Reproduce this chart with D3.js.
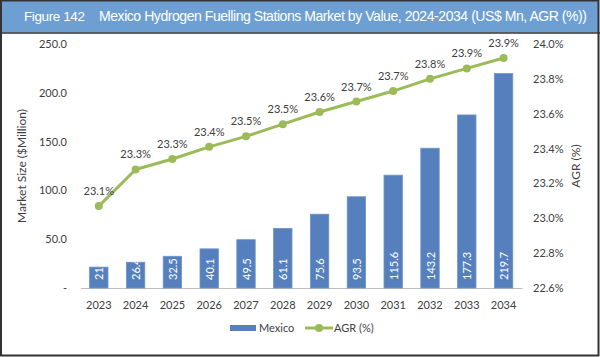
<!DOCTYPE html>
<html><head><meta charset="utf-8">
<script src="https://cdn.jsdelivr.net/npm/d3@7"></script>
<style>
html,body{margin:0;padding:0;background:#fff;}
svg{display:block;}
</style></head>
<body>
<svg id="chart" width="600" height="357"></svg>
<script>
const years = ["2023","2024","2025","2026","2027","2028","2029","2030","2031","2032","2033","2034"];
const marketValues = [21.4, 26.4, 32.5, 40.1, 49.5, 61.1, 75.6, 93.5, 115.6, 143.2, 177.3, 219.7];
const agrValues = [23.07, 23.28, 23.34, 23.41, 23.47, 23.54, 23.61, 23.67, 23.73, 23.80, 23.86, 23.92];
const agrLabels = ["23.1%","23.3%","23.3%","23.4%","23.5%","23.5%","23.6%","23.7%","23.7%","23.8%","23.9%","23.9%"];
const leftTicks = [0, 50, 100, 150, 200, 250];
const rightTicks = [22.6, 22.8, 23.0, 23.2, 23.4, 23.6, 23.8, 24.0];
const titleFigure = "Figure 142";
const titleText = "Mexico Hydrogen Fuelling Stations Market by Value, 2024-2034 (US$ Mn, AGR (%))";

const svg = d3.select("#chart");
const W = 600, H = 357;
const font = "Lato, 'Open Sans', sans-serif";
const txt = "#404040";

// frame
svg.append("rect").attr("x",0).attr("y",0).attr("width",W).attr("height",H).attr("fill","#fff");
svg.append("rect").attr("x",1).attr("y",0.5).attr("width",W-2).attr("height",32).attr("fill","#6d9fd3");
svg.append("line").attr("x1",0).attr("x2",W).attr("y1",33).attr("y2",33).attr("stroke","#333").attr("stroke-width",1.5);
svg.append("rect").attr("x",1).attr("y",0.5).attr("width",W-2.5).attr("height",H-2)
  .attr("fill","none").attr("stroke","#333").attr("stroke-width",2);

// title
svg.append("text").attr("x",24).attr("y",21).attr("fill","#fff")
  .attr("font-family","'Liberation Sans', Arial, sans-serif").attr("font-size",13.5)
  .attr("textLength",61).attr("lengthAdjust","spacing").text(titleFigure);
svg.append("text").attr("x",99).attr("y",21).attr("fill","#fff")
  .attr("font-family","'Liberation Sans', Arial, sans-serif").attr("font-size",14)
  .attr("textLength",488).attr("lengthAdjust","spacing").text(titleText);

// scales
const x = d3.scaleBand().domain(years).range([80.4, 522]).paddingInner(0.5).paddingOuter(0.25);
const yL = d3.scaleLinear().domain([0, 250]).range([288, 44]);
const yR = d3.scaleLinear().domain([22.6, 24.0]).range([288, 44]);

// left axis
const axL = d3.axisLeft(yL).tickValues(leftTicks).tickSize(0).tickPadding(0)
  .tickFormat(d => d === 0 ? "-" : d3.format(".1f")(d));
const gL = svg.append("g").attr("transform","translate(67,0)").call(axL);
gL.select(".domain").remove();
gL.selectAll("text").attr("font-family",font).attr("font-size",11).attr("fill",txt).attr("text-anchor","end");

// right axis
const axR = d3.axisRight(yR).tickValues(rightTicks).tickSize(0).tickPadding(0)
  .tickFormat(d => d3.format(".1f")(d) + "%");
const gR = svg.append("g").attr("transform","translate(533,0)").call(axR);
gR.select(".domain").remove();
gR.selectAll("text").attr("font-family",font).attr("font-size",11).attr("fill",txt);

// x axis
const axX = d3.axisBottom(x).tickSize(0).tickPadding(0);
const gX = svg.append("g").attr("transform","translate(0,288)").call(axX);
gX.select(".domain").attr("stroke","#bfbfbf").attr("stroke-width",1.2);
gX.selectAll("text").attr("font-family",font).attr("font-size",11).attr("fill",txt).attr("dy","1.9em");

// axis titles
svg.append("text").attr("transform","translate(26,166) rotate(-90)").attr("text-anchor","middle")
  .attr("font-family",font).attr("font-size",12).attr("fill",txt).text("Market Size ($Million)");
svg.append("text").attr("transform","translate(580,166) rotate(-90)").attr("text-anchor","middle")
  .attr("font-family",font).attr("font-size",12).attr("fill",txt).text("AGR (%)");

// bars
const defs = svg.append("defs");
years.forEach((yr, i) => {
  defs.append("clipPath").attr("id","clip"+i).append("rect")
    .attr("x", x(yr)).attr("y", yL(marketValues[i])).attr("width", x.bandwidth())
    .attr("height", yL(0) - yL(marketValues[i]));
});
svg.append("g").selectAll("rect").data(years).join("rect")
  .attr("x", d => x(d)).attr("y", (d,i) => yL(marketValues[i]))
  .attr("width", x.bandwidth()).attr("height", (d,i) => yL(0) - yL(marketValues[i]))
  .attr("fill","#5580bd").attr("stroke","#6f93c9").attr("stroke-width",0.8);

const lbl = svg.append("g");
years.forEach((yr, i) => {
  const g = lbl.append("g").attr("clip-path", `url(#clip${i})`);
  const cx = x(yr) + x.bandwidth()/2;
  g.append("text").attr("transform", `translate(${cx},280) rotate(-90)`)
    .attr("dominant-baseline","central").attr("text-anchor","start")
    .attr("font-family",font).attr("font-size",11).attr("fill","#fff")
    .text(String(marketValues[i]));
});

// line
const line = d3.line().x((d,i) => x(years[i]) + x.bandwidth()/2).y(d => yR(d));
svg.append("path").datum(agrValues).attr("d", line).attr("fill","none")
  .attr("stroke","#9bbb59").attr("stroke-width",3).attr("stroke-linejoin","round");
svg.append("g").selectAll("circle").data(agrValues).join("circle")
  .attr("cx", (d,i) => x(years[i]) + x.bandwidth()/2).attr("cy", d => yR(d))
  .attr("r",4).attr("fill","#9bbb59");
svg.append("g").selectAll("text").data(agrValues).join("text")
  .attr("x", (d,i) => x(years[i]) + x.bandwidth()/2).attr("y", d => yR(d) - 11)
  .attr("text-anchor","middle").attr("font-family",font).attr("font-size",11).attr("fill",txt)
  .text((d,i) => agrLabels[i]);

// legend
const lg = svg.append("g");
lg.append("rect").attr("x",230).attr("y",325).attr("width",26).attr("height",6).attr("fill","#5580bd");
lg.append("text").attr("x",259).attr("y",332).attr("font-family",font).attr("font-size",11).attr("fill",txt).text("Mexico");
lg.append("line").attr("x1",305).attr("x2",333).attr("y1",328).attr("y2",328).attr("stroke","#9bbb59").attr("stroke-width",3);
lg.append("circle").attr("cx",319).attr("cy",328).attr("r",4).attr("fill","#9bbb59");
lg.append("text").attr("x",334).attr("y",332).attr("font-family",font).attr("font-size",11).attr("fill",txt).text("AGR (%)");
</script>
</body></html>
